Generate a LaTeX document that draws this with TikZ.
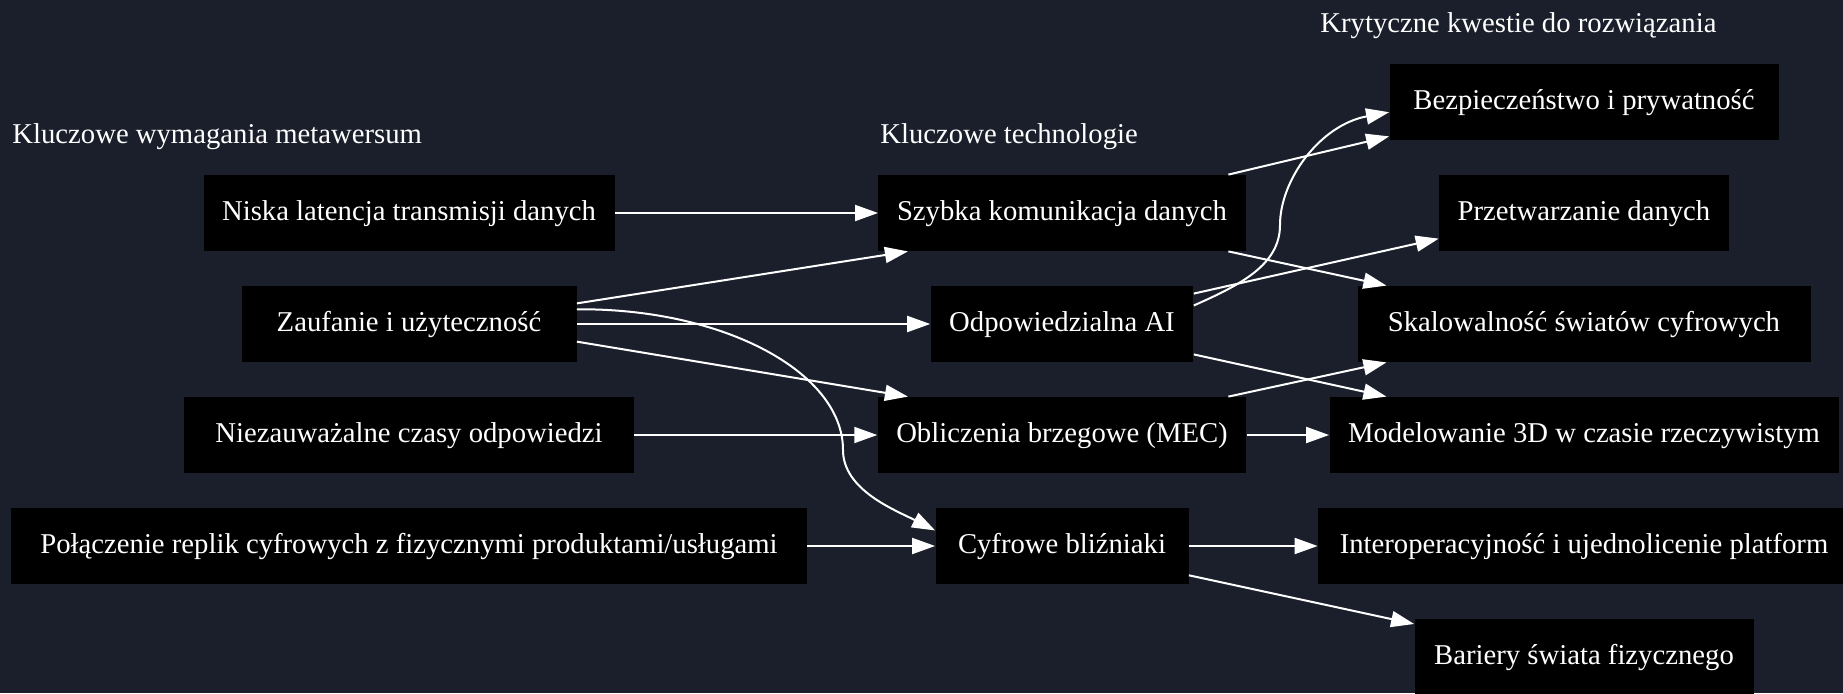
\documentclass[tikz,border=0pt]{standalone}
\usepackage{fontspec}
\setmainfont{Liberation Serif}
\usetikzlibrary{arrows.meta}
\definecolor{bgdark}{RGB}{27,31,43}
\begin{document}
\begin{tikzpicture}[x=0.5pt, y=0.5pt, node distance=55.5pt,
  main/.style={fill=black, text=white, minimum height=38pt, inner xsep=9.3pt, text height=10pt, text depth=3pt, font=\fontsize{14.35}{17}\selectfont},
  head/.style={text=white, inner sep=0pt, anchor=base west, font=\fontsize{14.35}{17}\selectfont},
  link/.style={draw=white, line width=1pt, -{Triangle[length=11.5pt,width=8pt]}}]
\fill[bgdark] (0,0) rectangle (1843,693);
\useasboundingbox (0,0) rectangle (1843,693);
\node[head] (hreq) at (12,550) {Kluczowe wymagania metawersum};
\node[head] (htech) at (880,550) {Kluczowe technologie};
\node[head] (hissue) at (1320,661) {Krytyczne kwestie do rozwiązania};
\node[main, minimum width=205.5pt] (niska) at (409,480) {Niska latencja transmisji danych};
\node[main, minimum width=167.5pt] (zau) [below of=niska] {Zaufanie i użyteczność};
\node[main, minimum width=225pt] (niez) [below of=zau] {Niezauważalne czasy odpowiedzi};
\node[main, minimum width=398pt] (polacz) [below of=niez] {Połączenie replik cyfrowych z fizycznymi produktami/usługami};
\node[main, minimum width=182.5pt] (szybka) at (1062,480) {Szybka komunikacja danych};
\node[main, minimum width=131pt] (odp) [below of=szybka] {Odpowiedzialna AI};
\node[main, minimum width=183.5pt] (oblicz) [below of=odp] {Obliczenia brzegowe (MEC)};
\node[main, minimum width=126.5pt] (cyfr) [below of=oblicz] {Cyfrowe bliźniaki};
\node[main, minimum width=194.5pt] (bezp) at (1584,591) {Bezpieczeństwo i prywatność};
\node[main, minimum width=144pt] (przetw) [below of=bezp] {Przetwarzanie danych};
\node[main, minimum width=226.5pt] (skal) [below of=przetw] {Skalowalność światów cyfrowych};
\node[main, minimum width=253.5pt] (model) [below of=skal] {Modelowanie 3D w czasie rzeczywistym};
\node[main, minimum width=266pt] (interop) [below of=model] {Interoperacyjność i ujednolicenie platform};
\node[main, minimum width=169.5pt] (bariery) [below of=interop] {Bariery świata fizycznego};
\draw[link] (niska) -- (szybka);
\draw[link] (zau.7) -- (szybka.194);
\draw[link] (zau) -- (odp);
\draw[link] (zau.-6) -- (oblicz.166);
\draw[link] (zau.5) .. controls (723,385) and (843,321) .. (843,243) .. controls (843,203) and (895,183) .. (cyfr.173);
\draw[link] (niez) -- (oblicz);
\draw[link] (polacz) -- (cyfr);
\draw[link] (szybka.13) -- (bezp.190);
\draw[link] (szybka.-13) -- (skal.169);
\draw[link] (odp.13) -- (przetw.190);
\draw[link] (odp.8) .. controls (1240,408) and (1280,428) .. (1280,468) .. controls (1280,513) and (1320,568) .. (bezp.183);
\draw[link] (odp.-13) -- (model.169);
\draw[link] (oblicz.13) -- (skal.191);
\draw[link] (oblicz) -- (model);
\draw[link] (cyfr) -- (interop);
\draw[link] (cyfr.-13) -- (bariery.169);
\end{tikzpicture}
\end{document}
